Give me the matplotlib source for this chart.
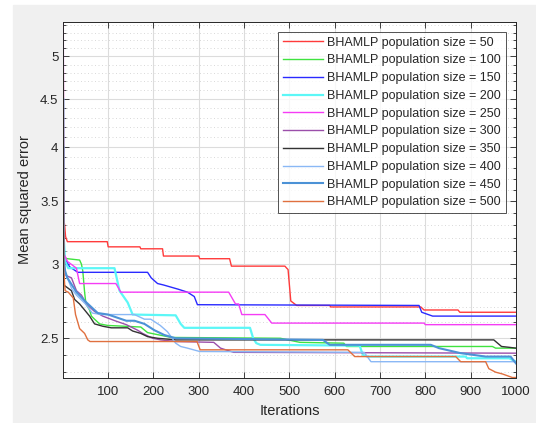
import numpy as np
import matplotlib
matplotlib.use("Agg")
import matplotlib.pyplot as plt
from matplotlib.patches import Rectangle
from matplotlib.ticker import FixedLocator, FixedFormatter, NullFormatter

plt.rcParams['font.family'] = ['Liberation Sans', 'DejaVu Sans']

# convergence curves: (iteration, mse) breakpoints
it_50 = [1, 2, 4, 6, 10, 98, 100, 170, 172, 220, 222, 300, 302, 368, 372, 490, 494, 497, 503, 516, 589, 591, 790, 797, 872, 876, 1000]
mse_50 = [3.75, 3.35, 3.30, 3.21, 3.17, 3.17, 3.13, 3.13, 3.115, 3.115, 3.06, 3.06, 3.04, 3.04, 2.985, 2.985, 2.97, 2.96, 2.74, 2.71, 2.71, 2.70, 2.70, 2.68, 2.68, 2.665, 2.665]

it_100 = [1, 2, 10, 37, 41, 44, 48, 51, 59, 63, 70, 81, 99, 172, 187, 222, 240, 480, 523, 620, 626, 948, 955, 1000]
mse_100 = [3.4, 3.05, 3.04, 3.03, 3.0, 2.95, 2.80, 2.72, 2.68, 2.64, 2.62, 2.59, 2.58, 2.57, 2.535, 2.515, 2.505, 2.50, 2.475, 2.47, 2.45, 2.45, 2.44, 2.44]

it_150 = [1, 2, 8, 15, 33, 187, 195, 209, 222, 255, 275, 290, 297, 786, 792, 816, 1000]
mse_150 = [3.6, 3.05, 3.02, 2.98, 2.94, 2.94, 2.90, 2.86, 2.85, 2.82, 2.80, 2.77, 2.715, 2.71, 2.665, 2.64, 2.64]

it_200 = [1, 2, 5, 12, 114, 125, 143, 154, 249, 260, 268, 413, 420, 427, 436, 655, 662, 672, 889, 892, 985, 1000]
mse_200 = [4.5, 3.2, 3.02, 2.97, 2.97, 2.81, 2.73, 2.65, 2.645, 2.59, 2.565, 2.565, 2.50, 2.47, 2.46, 2.455, 2.40, 2.39, 2.39, 2.38, 2.38, 2.36]

it_250 = [1, 2, 10, 30, 37, 117, 128, 366, 381, 388, 395, 446, 461, 797, 800, 1000]
mse_250 = [5.45, 3.08, 3.02, 2.97, 2.86, 2.86, 2.80, 2.80, 2.72, 2.72, 2.65, 2.65, 2.595, 2.595, 2.585, 2.585]

it_300 = [1, 2, 5, 19, 30, 41, 52, 70, 88, 115, 140, 165, 176, 198, 216, 249, 333, 348, 377, 1000]
mse_300 = [5.2, 3.0, 2.92, 2.90, 2.81, 2.78, 2.72, 2.67, 2.64, 2.61, 2.585, 2.55, 2.53, 2.50, 2.49, 2.48, 2.475, 2.44, 2.415, 2.41]

it_350 = [1, 2, 19, 26, 37, 48, 59, 70, 88, 107, 143, 154, 172, 187, 209, 250, 951, 968, 985, 1000]
mse_350 = [3.3, 2.85, 2.81, 2.75, 2.72, 2.68, 2.64, 2.59, 2.575, 2.565, 2.565, 2.545, 2.53, 2.51, 2.50, 2.49, 2.49, 2.45, 2.445, 2.44]

it_400 = [1, 2, 10, 20, 30, 50, 65, 85, 158, 180, 194, 215, 231, 249, 260, 275, 302, 665, 680, 1000]
mse_400 = [3.5, 2.95, 2.90, 2.82, 2.78, 2.72, 2.66, 2.65, 2.65, 2.62, 2.62, 2.58, 2.54, 2.47, 2.45, 2.44, 2.42, 2.415, 2.36, 2.36]

it_450 = [1, 2, 5, 10, 20, 30, 52, 77, 100, 140, 158, 180, 202, 224, 249, 574, 589, 812, 830, 878, 933, 988, 1000]
mse_450 = [4.0, 3.05, 2.95, 2.90, 2.85, 2.80, 2.73, 2.66, 2.65, 2.61, 2.61, 2.59, 2.55, 2.52, 2.50, 2.49, 2.46, 2.46, 2.44, 2.41, 2.39, 2.39, 2.35]

it_500 = [1, 2, 5, 12, 23, 28, 37, 48, 55, 60, 296, 303, 629, 644, 867, 878, 933, 940, 955, 970, 992, 1000]
mse_500 = [4.85, 2.95, 2.81, 2.80, 2.76, 2.65, 2.56, 2.53, 2.49, 2.48, 2.48, 2.43, 2.43, 2.39, 2.39, 2.36, 2.36, 2.32, 2.30, 2.29, 2.27, 2.27]

pop_sizes = [50, 100, 150, 200, 250, 300, 350, 400, 450, 500]
iters = [it_50, it_100, it_150, it_200, it_250, it_300, it_350, it_400, it_450, it_500]
mses = [mse_50, mse_100, mse_150, mse_200, mse_250, mse_300, mse_350, mse_400, mse_450, mse_500]

colors = ['#ff3b3b', '#3fe33f', '#2a2aff', '#5cf7f7', '#f53cf5',
          '#9b4faa', '#333333', '#8ab8f5', '#4c92d6', '#e0703f']
widths = [1, 1, 1, 1.6, 1, 1, 1, 1, 1.5, 1]

y_major = [2.5, 3, 3.5, 4, 4.5, 5]
y_major_lbl = ['2.5', '3', '3.5', '4', '4.5', '5']
x_major = [100, 200, 300, 400, 500, 600, 700, 800, 900, 1000]

txt = '#262626'

fig = plt.figure(figsize=(5.36, 4.23), dpi=100)
fig.patches.append(Rectangle((13/536, 0), 1 - 13/536, 1 - 5/423,
                             transform=fig.transFigure, color='#f0f0f0', zorder=-10))
ax = fig.add_axes([63.3/536, 1 - 377.7/423, (516 - 63.3)/536, (377.7 - 21.7)/423])
ax.set_facecolor('white')

for p, xs, ys, c, w in zip(pop_sizes, iters, mses, colors, widths):
    ax.plot(xs, ys, color=c, lw=w, label='BHAMLP population size = %d' % p)

ax.set_yscale('log')
ax.set_xlim(1, 1000)
ax.set_ylim(2.269, 5.444)

ax.yaxis.set_major_locator(FixedLocator(y_major))
ax.yaxis.set_major_formatter(FixedFormatter(y_major_lbl))
minors = [round(v, 1) for v in np.arange(2.3, 5.45, 0.1) if round(v, 1) not in y_major]
ax.yaxis.set_minor_locator(FixedLocator(minors))
ax.yaxis.set_minor_formatter(NullFormatter())
ax.xaxis.set_major_locator(FixedLocator(x_major))

ax.grid(True, which='major', color='#dcdcdc', lw=0.8)
ax.grid(True, which='minor', axis='y', color='#d4d4d4', lw=0.6, ls=(0, (1.2, 3)))
ax.set_axisbelow(True)

ax.tick_params(which='both', direction='in', top=True, right=True, colors=txt,
               labelsize=9.5, width=0.6)
ax.tick_params(which='major', length=4)
ax.tick_params(which='minor', length=2.5)
ax.tick_params(axis='x', which='major', pad=6)
ax.tick_params(axis='x', which='minor', bottom=False, top=False)
for s in ax.spines.values():
    s.set_color(txt)
    s.set_linewidth(0.7)

ax.set_xlabel('Iterations', fontsize=10.5, color=txt, labelpad=4)
ax.set_ylabel('Mean squared error', fontsize=10.5, color=txt, labelpad=6)

leg = ax.legend(loc='upper right', fontsize=9, frameon=True, fancybox=False,
                edgecolor=txt, handlelength=3.2, handletextpad=0.35,
                labelspacing=0.46, borderaxespad=0.8, borderpad=0.4)
leg.get_frame().set_linewidth(0.7)
for t in leg.get_texts():
    t.set_color(txt)

fig.savefig('out.png', dpi=100)
